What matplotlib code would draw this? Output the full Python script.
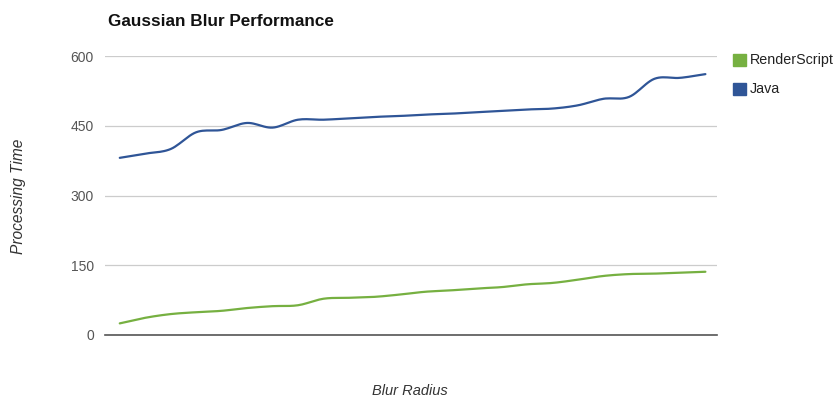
import numpy as np
import matplotlib
matplotlib.use('Agg')
import matplotlib.pyplot as plt
from matplotlib.patches import Rectangle

# values
radius = list(range(1, 25))
renderscript = [25, 37, 45, 49, 52, 58, 62, 64, 78, 80, 82, 87,
                93, 96, 100, 103, 109, 112, 119, 127, 131, 132, 134, 136]
java = [381, 390, 400, 436, 441, 456, 446, 463, 463, 466, 469, 471,
        474, 476, 479, 482, 485, 487, 494, 508, 512, 551, 553, 561]
yticks = [0, 150, 300, 450, 600]

GREEN = '#76b041'
BLUE = '#2f5597'


def smooth(x, y, n=12):
    # catmull-rom curve through the points (like the curved line option)
    x = np.asarray(x, float)
    y = np.asarray(y, float)
    px = np.concatenate([[2 * x[0] - x[1]], x, [2 * x[-1] - x[-2]]])
    py = np.concatenate([[2 * y[0] - y[1]], y, [2 * y[-1] - y[-2]]])
    xs, ys = [], []
    t = np.linspace(0, 1, n, endpoint=False)
    for i in range(1, len(px) - 2):
        for p, out in ((px, xs), (py, ys)):
            p0, p1, p2, p3 = p[i - 1], p[i], p[i + 1], p[i + 2]
            out.extend(0.5 * (2 * p1 + (-p0 + p2) * t
                              + (2 * p0 - 5 * p1 + 4 * p2 - p3) * t ** 2
                              + (-p0 + 3 * p1 - 3 * p2 + p3) * t ** 3))
    xs.append(x[-1])
    ys.append(y[-1])
    return np.array(xs), np.array(ys)


plt.rcParams['font.family'] = ['Liberation Sans', 'DejaVu Sans']

fig = plt.figure(figsize=(8.4, 4), dpi=100)
ax = fig.add_axes([0.125, 0.1625, 0.729, 0.6975])

idx = np.arange(len(radius))
for vals, col in ((java, BLUE), (renderscript, GREEN)):
    sx, sy = smooth(idx, vals)
    ax.plot(sx, sy, color=col, linewidth=1.6, solid_capstyle='round')

ax.set_ylim(0, 600)
ax.set_xlim(-0.58, len(radius) - 1 + 0.47)
ax.set_yticks(yticks)
ax.set_yticklabels([str(v) for v in yticks])
ax.set_xticks([])
ax.grid(axis='y', color='#cccccc', linewidth=0.9)
ax.set_axisbelow(True)
for s in ['top', 'right', 'left']:
    ax.spines[s].set_visible(False)
ax.spines['bottom'].set_color('#555555')
ax.spines['bottom'].set_linewidth(1.2)
ax.tick_params(axis='y', length=0, pad=8, labelsize=10, labelcolor='#555555')

fig.text(0.128, 0.945, 'Gaussian Blur Performance', fontsize=12.3,
         fontweight='bold', color='#111111', ha='left', va='center')
fig.text(0.022, 0.51, 'Processing Time', fontsize=11.2, style='italic',
         color='#333333', rotation=90, ha='center', va='center')
fig.text(0.488, 0.022, 'Blur Radius', fontsize=10.5, style='italic',
         color='#333333', ha='center', va='center')

# legend on the right
for i, (name, col) in enumerate((('RenderScript', GREEN), ('Java', BLUE))):
    yy = 0.85 - i * 0.072
    fig.patches.append(Rectangle((0.873, yy - 0.015), 0.0145, 0.03,
                                 transform=fig.transFigure, color=col))
    fig.text(0.893, yy, name, fontsize=10.3, color='#222222',
             ha='left', va='center')

fig.savefig('out.png', dpi=100)
